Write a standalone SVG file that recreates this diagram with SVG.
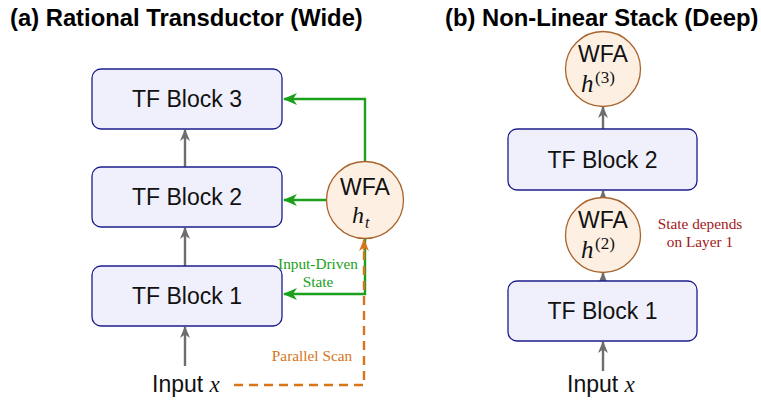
<svg xmlns="http://www.w3.org/2000/svg" width="761" height="400" viewBox="0 0 761 400">
<style>
.title{font-family:"Liberation Sans",Arial,sans-serif;font-weight:bold;font-size:23.8px;fill:#000}
.box{fill:#f0f0fc;stroke:#1c1c8c;stroke-width:1.3}
.lbl{font-family:"Liberation Sans",Arial,sans-serif;font-size:23px;fill:#111;text-anchor:middle}
.wl{font-family:"Liberation Sans",Arial,sans-serif;font-size:23px;fill:#111;text-anchor:middle}
.wfa{fill:#fdf0e3;stroke:#a8642c;stroke-width:1.3}
.math{font-family:"Liberation Serif","Times New Roman",serif;font-style:italic;fill:#111}
.up{font-family:"Liberation Serif","Times New Roman",serif;font-style:normal;fill:#111}
.gray{fill:none;stroke:#6e6e6e;stroke-width:2.4}
.green{fill:none;stroke:#1aa01a;stroke-width:2.4}
.orange{fill:none;stroke:#d8741a;stroke-width:2.4;stroke-dasharray:9,6}
.note{font-family:"Liberation Serif","Times New Roman",serif;font-size:15.3px;text-anchor:middle}
</style>
<defs>
<marker id="ag" viewBox="0 0 12 10" refX="11" refY="5" markerWidth="12" markerHeight="10" markerUnits="userSpaceOnUse" orient="auto"><path d="M0,0 L12,5 L0,10 L3.5,5 z" fill="#6e6e6e"/></marker>
<marker id="agr" viewBox="0 0 14 12" refX="13" refY="6" markerWidth="14" markerHeight="12" markerUnits="userSpaceOnUse" orient="auto"><path d="M0,0 L14,6 L0,12 L4,6 z" fill="#1aa01a"/></marker>
<marker id="aor" viewBox="0 0 12 10" refX="11" refY="5" markerWidth="12" markerHeight="10" markerUnits="userSpaceOnUse" orient="auto"><path d="M0,0 L12,5 L0,10 L3.5,5 z" fill="#d8741a"/></marker>
</defs>

<text class="title" x="10" y="26">(a) Rational Transductor (Wide)</text>
<text class="title" x="445" y="26">(b) Non-Linear Stack (Deep)</text>

<g id="connectors">
<line class="gray" x1="185" y1="366" x2="185" y2="327" marker-end="url(#ag)"/>
<line class="gray" x1="185" y1="266" x2="185" y2="228" marker-end="url(#ag)"/>
<line class="gray" x1="185" y1="167" x2="185" y2="130" marker-end="url(#ag)"/>
<polyline class="green" points="365,162 365,99 284,99" marker-end="url(#agr)"/>
<line class="green" x1="327" y1="200" x2="284" y2="200" marker-end="url(#agr)"/>
<polyline class="green" points="365,239 365,294 284,294" marker-end="url(#agr)"/>
<polyline class="orange" points="234,385 364,385 364,244"/>
<line x1="364" y1="250" x2="364" y2="240" stroke="#d8741a" stroke-width="2.4" marker-end="url(#aor)"/>
<line class="gray" x1="603" y1="371" x2="603" y2="342" marker-end="url(#ag)"/>
<line class="gray" x1="603" y1="281" x2="603" y2="273" marker-end="url(#ag)"/>
<line class="gray" x1="603" y1="197" x2="603" y2="191" marker-end="url(#ag)"/>
<line class="gray" x1="603" y1="129" x2="603" y2="107" marker-end="url(#ag)"/>
</g>

<g id="a-block3"><rect class="box" x="92" y="69" width="190" height="60" rx="9"/><text class="lbl" x="187" y="107">TF Block 3</text></g>
<g id="a-block2"><rect class="box" x="92" y="167" width="190" height="60" rx="9"/><text class="lbl" x="187" y="205">TF Block 2</text></g>
<g id="a-block1"><rect class="box" x="92" y="266" width="190" height="60" rx="9"/><text class="lbl" x="187" y="304">TF Block 1</text></g>
<g id="a-wfa"><circle class="wfa" cx="365" cy="200" r="38.5"/><text class="wl" x="365" y="195">WFA</text><text class="math" x="352" y="223" font-size="24">h</text><text class="math" x="365" y="228" font-size="16">t</text></g>
<g id="a-input"><text x="152" y="392" style="font-family:'Liberation Sans',Arial,sans-serif;font-size:23px;fill:#111">Input <tspan class="math">x</tspan></text></g>
<text class="note" x="318" y="269" fill="#1aa01a">Input-Driven</text>
<text class="note" x="318" y="287" fill="#1aa01a">State</text>
<text class="note" x="312" y="361" fill="#d8741a">Parallel Scan</text>

<g id="b-wfa3"><circle class="wfa" cx="603" cy="69" r="37.5"/><text class="wl" x="603" y="62">WFA</text><text class="math" x="581" y="92" font-size="25">h</text><text class="up" x="595" y="83" font-size="17">(3)</text></g>
<g id="b-block2"><rect class="box" x="508" y="129" width="189" height="61" rx="9"/><text class="lbl" x="602.5" y="168">TF Block 2</text></g>
<g id="b-wfa2"><circle class="wfa" cx="603" cy="235" r="37.5"/><text class="wl" x="603" y="228">WFA</text><text class="math" x="581" y="258" font-size="25">h</text><text class="up" x="595" y="249" font-size="17">(2)</text></g>
<g id="b-block1"><rect class="box" x="508" y="281" width="189" height="60" rx="9"/><text class="lbl" x="602.5" y="319">TF Block 1</text></g>
<g id="b-input"><text x="567" y="392" style="font-family:'Liberation Sans',Arial,sans-serif;font-size:23px;fill:#111">Input <tspan class="math">x</tspan></text></g>
<text class="note" x="700" y="229" fill="#a31818">State depends</text>
<text class="note" x="700" y="247" fill="#a31818">on Layer 1</text>
</svg>
